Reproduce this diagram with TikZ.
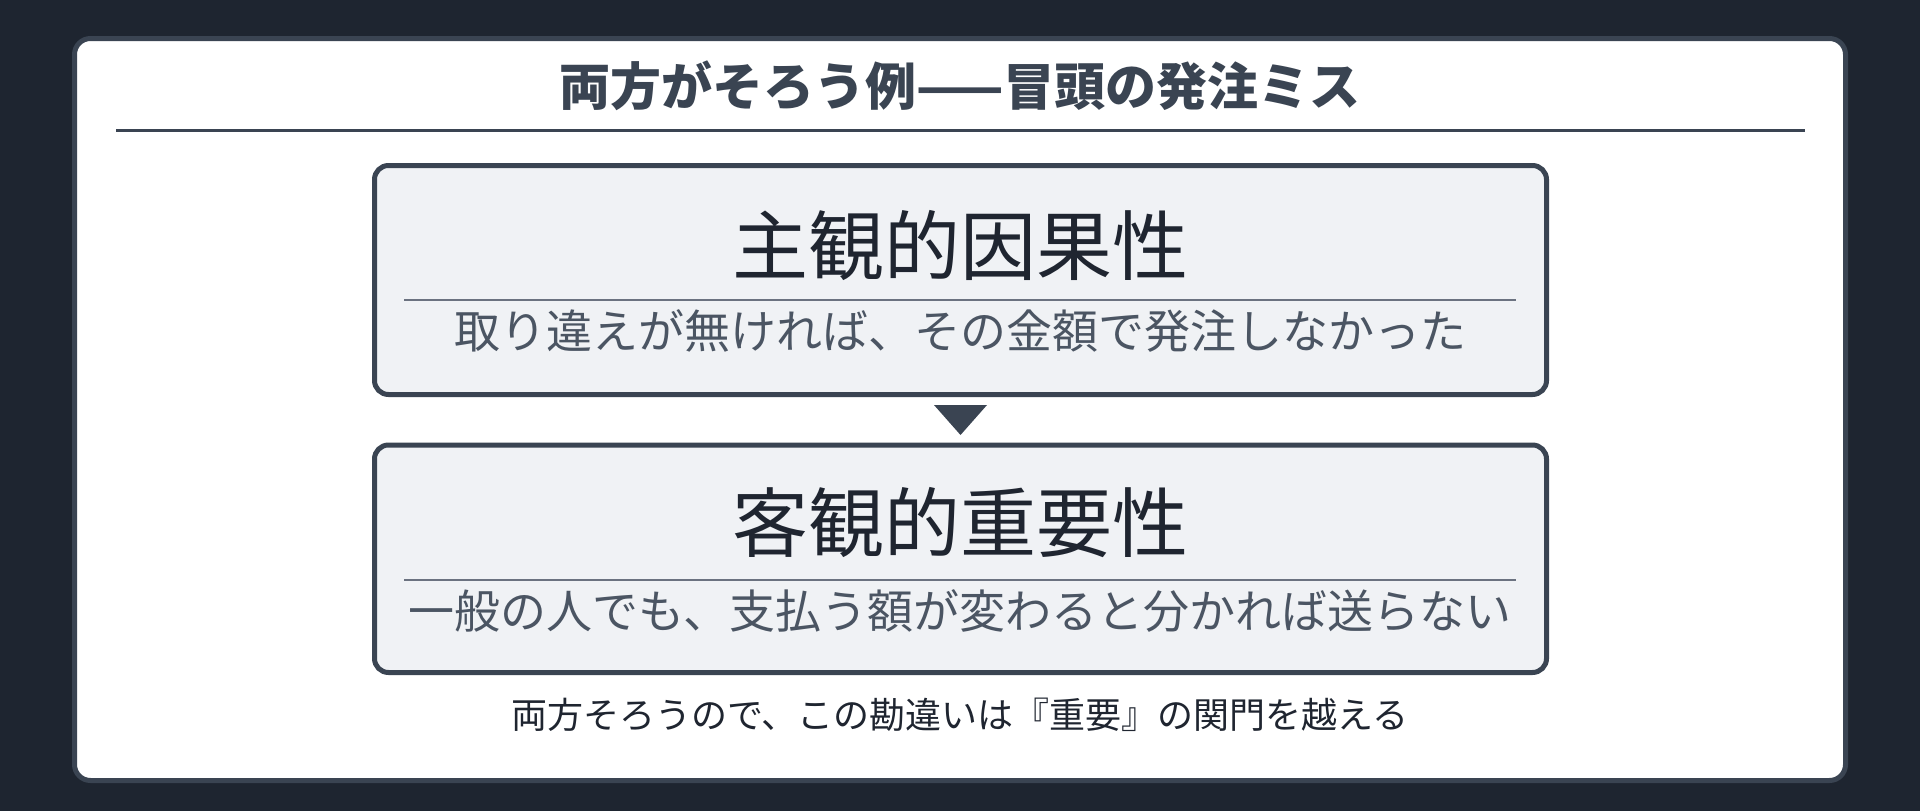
\documentclass[tikz,border=0pt]{standalone}
\usepackage{fontspec}
\setmainfont{Noto Sans CJK JP}
\definecolor{bgdark}{HTML}{1E2530}
\definecolor{edge}{HTML}{3A4452}
\definecolor{boxfill}{HTML}{F0F2F5}
\definecolor{inktxt}{HTML}{1F2530}
\definecolor{subtxt}{HTML}{4B5563}
\definecolor{sepline}{HTML}{6B7280}
\tikzset{
  cardbox/.style={draw=edge, line width=5pt, fill=boxfill, rounded corners=14pt},
  txt/.style={anchor=base, inner sep=0pt},
  bigtitle/.style={txt, text=inktxt, font=\fontsize{76}{90}\selectfont},
  subline/.style={txt, text=subtxt, font=\fontsize{46}{56}\selectfont},
  sepstyle/.style={draw=sepline, line width=2.8pt},
}
\begin{document}
\begin{tikzpicture}[x=1pt,y=-1pt]
\useasboundingbox (0,0) rectangle (1920,811);
\fill[bgdark] (0,0) rectangle (1920,811);
% panel
\draw[draw=edge, line width=5pt, fill=white, rounded corners=16pt] (74.5,38.5) rectangle (1845.5,780.5);
% title
\node[txt, text=edge, font=\fontsize{51}{60}\selectfont\bfseries] (title) at (960,105) {両方がそろう例——冒頭の発注ミス};
\coordinate (ulL) at (116,130.5);
\coordinate (ulR) at (1805,130.5);
\draw[draw=edge, line width=3pt] (ulL) -- (ulR);
% box 1
\draw[cardbox] (374.5,165.5) rectangle (1546.5,394.5);
\node[bigtitle] (t1) at (960,274) {主観的因果性};
\coordinate (s1L) at (404,300);
\coordinate (s1R) at (1516,300);
\draw[sepstyle] (s1L) -- (s1R);
\node[subline] (d1) at (960,348.5) {取り違えが無ければ、その金額で発注しなかった};
% arrow
\fill[edge] (934,405) -- (987,405) -- (960.5,435) -- cycle;
% box 2
\draw[cardbox] (374.5,445) rectangle (1546.5,672.5);
\node[bigtitle] (t2) at (960,551) {客観的重要性};
\coordinate (s2L) at (404,580);
\coordinate (s2R) at (1516,580);
\draw[sepstyle] (s2L) -- (s2R);
\node[subline] (d2) at (960,628.5) {一般の人でも、支払う額が変わると分かれば送らない};
% footer
\node[txt, text=inktxt, font=\fontsize{36}{44}\selectfont] (foot) at (960,728.7) {両方そろうので、この勘違いは『重要』の関門を越える};
\end{tikzpicture}
\end{document}
